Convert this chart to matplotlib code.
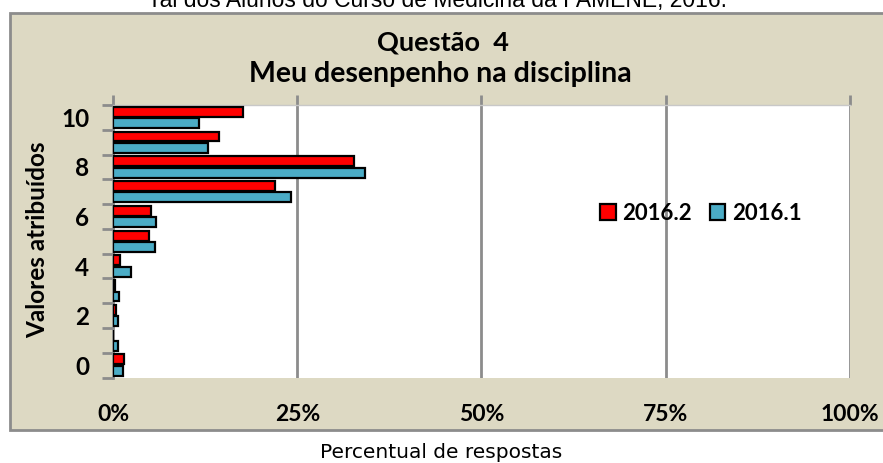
import matplotlib
matplotlib.use("Agg")
import matplotlib.pyplot as plt
from matplotlib.patches import Rectangle, Patch
import numpy as np

categories = [0, 1, 2, 3, 4, 5, 6, 7, 8, 9, 10]
s2016_2 = [1.45, 0.0, 0.45, 0.3, 1.0, 4.9, 5.2, 22.0, 32.7, 14.4, 17.7]
s2016_1 = [1.4, 0.7, 0.7, 0.8, 2.4, 5.7, 5.9, 24.1, 34.2, 12.9, 11.7]
series_names = ["2016.2", "2016.1"]
ytick_labels = ["0", "2", "4", "6", "8", "10"]
xtick_vals = [0, 25, 50, 75, 100]
xtick_labels = ["0%", "25%", "50%", "75%", "100%"]

W, H = 883, 463
fig = plt.figure(figsize=(W / 100, H / 100), dpi=100)
fig.patch.set_facecolor("white")

def fx(px):
    return px / W

def fy(py):
    return (H - py) / H

beige = "#DDD9C3"
grey = "#8C8C8C"
red = "#FF0000"
blue = "#4BACC6"

# caption (clipped at the top edge, as in the reference)
fig.text(fx(440), fy(7), "ral dos Alunos do Curso de Medicina da FAMENE, 2016.",
         ha="center", va="baseline", fontsize=16.5, family="Liberation Sans", color="black")

# beige chart box
box = Rectangle((fx(10), fy(430)), fx(890) - fx(10), fy(13) - fy(430),
                transform=fig.transFigure, facecolor=beige, edgecolor=grey,
                linewidth=2, zorder=-5)
fig.patches.append(box)

# titles
fig.text(fx(443), fy(43), "Questão  4", ha="center", va="center",
         fontsize=19.5, fontweight="bold", family="Lato")
fig.text(fx(440), fy(74), "Meu desenpenho na disciplina", ha="center", va="center",
         fontsize=20.5, fontweight="bold", family="Lato")

left, right, top, bottom = 113, 850, 105, 377.5
ax = fig.add_axes([fx(left), fy(bottom), fx(right) - fx(left), fy(top) - fy(bottom)])
ax.set_zorder(2)
ax.set_facecolor("white")

y = np.array(categories, dtype=float)
h = 0.4
ax.barh(y + 0.23, s2016_2, height=h, color=red, edgecolor="black", linewidth=1.6,
        label=series_names[0], zorder=3)
ax.barh(y - 0.23, s2016_1, height=h, color=blue, edgecolor="black", linewidth=1.6,
        label=series_names[1], zorder=3)

ax.set_xlim(0, 100)
ax.set_ylim(-0.5, 10.5)

for v in xtick_vals[1:]:
    ax.axvline(v, color=grey, linewidth=2, zorder=1)

ax.set_xticks(xtick_vals)
ax.set_xticklabels(xtick_labels)
ax.tick_params(axis="x", which="major", bottom=False, top=True, labelbottom=True,
               labeltop=False, direction="out", length=7, width=2, color=grey,
               pad=12, labelsize=16.5)
for t in ax.get_xticklabels():
    t.set_fontweight("bold")
    t.set_family("Lato")

ax.set_yticks([0, 2, 4, 6, 8, 10])
ax.set_yticklabels(ytick_labels)
ax.set_yticks(np.arange(-0.5, 11, 1.0), minor=True)
ax.tick_params(axis="y", which="major", length=0, pad=17, labelsize=17.5)
ax.tick_params(axis="y", which="minor", length=8, width=2, color=grey, direction="out")
for t in ax.get_yticklabels():
    t.set_fontweight("bold")
    t.set_family("Lato")

ax.spines["left"].set_color(grey)
ax.spines["left"].set_linewidth(2)
ax.spines["top"].set_color("#C8C8C8")
ax.spines["top"].set_linewidth(1)
ax.spines["right"].set_visible(False)
ax.spines["bottom"].set_visible(False)

fig.text(fx(38), fy(240), "Valores atribuídos", rotation=90, ha="center", va="center",
         fontsize=17.5, fontweight="bold", family="Lato")

handles = [Patch(facecolor=red, edgecolor="black", linewidth=1.6),
           Patch(facecolor=blue, edgecolor="black", linewidth=1.6)]
leg = fig.legend(handles, series_names, loc="center left",
                 bbox_to_anchor=(fx(600), fy(213)), ncol=2, frameon=False,
                 prop={"family": "Lato", "weight": "bold", "size": 16},
                 handlelength=0.7, handleheight=0.7, handletextpad=0.3,
                 columnspacing=0.8, borderaxespad=0, borderpad=0)
leg.set_zorder(10)

fig.text(fx(441), fy(452), "Percentual de respostas", ha="center", va="center",
         fontsize=14.5, family="DejaVu Sans")

fig.savefig("out.png", dpi=100, facecolor="white")
